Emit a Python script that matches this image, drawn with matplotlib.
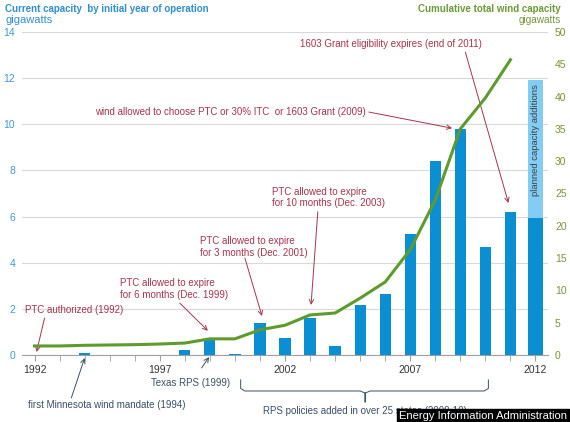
import matplotlib
matplotlib.use("Agg")
import matplotlib.pyplot as plt
import numpy as np

plt.rcParams['font.family'] = ['Liberation Sans', 'DejaVu Sans']

years = list(range(1992, 2013))
# annual additions still operating (left axis, GW)
capacity = [0.0, 0.0, 0.1, 0.0, 0.0, 0.0, 0.2, 0.7, 0.05, 1.4, 0.75, 1.6, 0.4,
            2.15, 2.65, 5.25, 8.4, 9.8, 4.68, 6.2, 5.95]
planned_2012 = 11.9  # total incl. planned additions
line_years = list(range(1992, 2012))
cumulative = [1.4, 1.4, 1.5, 1.55, 1.6, 1.7, 1.85, 2.5, 2.5, 3.9, 4.6, 6.2, 6.5,
              8.8, 11.3, 16.3, 24.0, 35.0, 39.8, 45.7]

BLUE = '#0b8fd3'
LIGHT = '#82cdf4'
GREEN = '#5f9a2c'
RED = '#a8344c'
SLATE = '#3b4f66'
LBLUE_TXT = '#3c9bd8'
GREEN_TXT = '#77953e'

fig = plt.figure(figsize=(5.7, 4.22), dpi=100)
ax = fig.add_axes([22/570, 1-355/422, (548-22)/570, (355-32)/422])
ax2 = ax.twinx()

ax.set_xlim(1991.5, 2012.5)
ax.set_ylim(0, 14)
ax2.set_ylim(0, 50)

# bars
ax.bar(years[-1], planned_2012, width=0.6, color=LIGHT, zorder=2)
ax.bar(years, capacity, width=0.45, color=BLUE, zorder=3)
ax.bar(years[-1], capacity[-1], width=0.6, color=BLUE, zorder=3)

ax2.plot(line_years, cumulative, color=GREEN, lw=2.2, zorder=4)

ax.set_yticks(range(0, 15, 2))
ax.yaxis.grid(True, color='#d9d9d9', lw=0.8)
ax.set_axisbelow(True)
ax.tick_params(axis='y', length=0, labelsize=7.5, labelcolor=LBLUE_TXT, pad=5)
ax2.set_yticks(range(0, 51, 5))
ax2.tick_params(axis='y', length=0, labelsize=7.5, labelcolor=GREEN_TXT, pad=5)

ax.set_xticks(years, minor=True)
ax.set_xticks([1992, 1997, 2002, 2007, 2012])
ax.tick_params(axis='x', which='both', direction='out', length=4, color='#a0a0a0',
               labelsize=7.5, labelcolor='#333333', pad=3)

for a in (ax, ax2):
    for s in ['top', 'left', 'right']:
        a.spines[s].set_visible(False)
    a.spines['bottom'].set_color('#a0a0a0')
ax2.spines['bottom'].set_visible(False)

# titles
fig.text(5/570, 1-9/422, 'Current capacity  by initial year of operation', color='#2f8fce',
         fontsize=7, fontweight='bold', va='center', ha='left')
fig.text(5/570, 1-20/422, 'gigawatts', color='#2f8fce', fontsize=8, va='center', ha='left')
fig.text(561/570, 1-9/422, 'Cumulative total wind capacity', color='#6c9a36',
         fontsize=7, fontweight='bold', va='center', ha='right')
fig.text(561/570, 1-20/422, 'gigawatts', color='#77953e', fontsize=7.2, va='center', ha='right')

ak = dict(arrowstyle='->', color=RED, lw=0.7, shrinkA=0, shrinkB=0, mutation_scale=8)
fs = 7

ax.text(1991.6, 1.95, 'PTC authorized (1992)', color=RED, fontsize=fs, va='center', ha='left')
ax.annotate('', xy=(1992.08, 0.13), xytext=(1992.4, 1.6), arrowprops=ak)

ax.text(1995.4, 2.86, 'PTC allowed to expire\nfor 6 months (Dec. 1999)', color=RED, fontsize=fs,
        va='center', ha='left', linespacing=1.2)
ax.annotate('', xy=(1998.92, 1.05), xytext=(1997.8, 2.25), arrowprops=ak)

ax.text(1998.62, 4.68, 'PTC allowed to expire\nfor 3 months (Dec. 2001)', color=RED, fontsize=fs,
        va='center', ha='left', linespacing=1.2)
ax.annotate('', xy=(2001.08, 1.69), xytext=(2000.4, 4.2), arrowprops=ak)

ax.text(2001.47, 6.83, 'PTC allowed to expire\nfor 10 months (Dec. 2003)', color=RED, fontsize=fs,
        va='center', ha='left', linespacing=1.2)
ax.annotate('', xy=(2003.04, 2.17), xytext=(2003.31, 6.21), arrowprops=ak)

ax.text(1994.4, 10.53, 'wind allowed to choose PTC or 30% ITC  or 1603 Grant (2009)', color=RED,
        fontsize=fs, va='center', ha='left')
ax.annotate('', xy=(2008.67, 9.83), xytext=(2005.35, 10.53), arrowprops=ak)

ax.text(2002.6, 13.48, '1603 Grant eligibility expires (end of 2011)', color=RED, fontsize=fs,
        va='center', ha='left')
ax.annotate('', xy=(2010.92, 6.59), xytext=(2009.2, 13.13), arrowprops=ak)

ax.text(2012, 9.3, 'planned capacity additions', rotation=90, color='#404040', fontsize=6.8,
        va='center', ha='center', zorder=5)

# below-axis annotations
sk = dict(arrowstyle='->', color=SLATE, lw=0.7, shrinkA=0, shrinkB=0, mutation_scale=8)
ax.text(1996.67, -1.21, 'Texas RPS (1999)', color=SLATE, fontsize=fs, va='center', ha='left')
ax.annotate('', xy=(1998.97, -0.09), xytext=(1998.67, -0.56), arrowprops=sk, annotation_clip=False)
ax.text(1991.73, -2.17, 'first Minnesota wind mandate (1994)', color=SLATE, fontsize=fs,
        va='center', ha='left')
ax.annotate('', xy=(1994.0, -0.13), xytext=(1993.47, -1.86), arrowprops=sk, annotation_clip=False)

bx = [2000.23, 2000.23, 2000.4, 2005.0, 2005.2, 2005.2, 2005.2, 2005.4, 2009.95, 2010.12, 2010.12]
by = [-1.08, -1.45, -1.56, -1.56, -1.65, -2.04, -1.65, -1.56, -1.56, -1.45, -1.08]
ax.plot(bx, by, color=SLATE, lw=0.7, clip_on=False)
ax.text(2005.2, -2.43, 'RPS policies added in over 25 states (2000-10)', color=SLATE, fontsize=fs,
        va='center', ha='center')

fig.text(567/570, 1-416/422, 'Energy Information Administration', color='white', fontsize=8,
         va='center', ha='right',
         bbox=dict(boxstyle='square,pad=0.15', fc='black', ec='black'), zorder=10)

fig.savefig('out.png', dpi=100)
